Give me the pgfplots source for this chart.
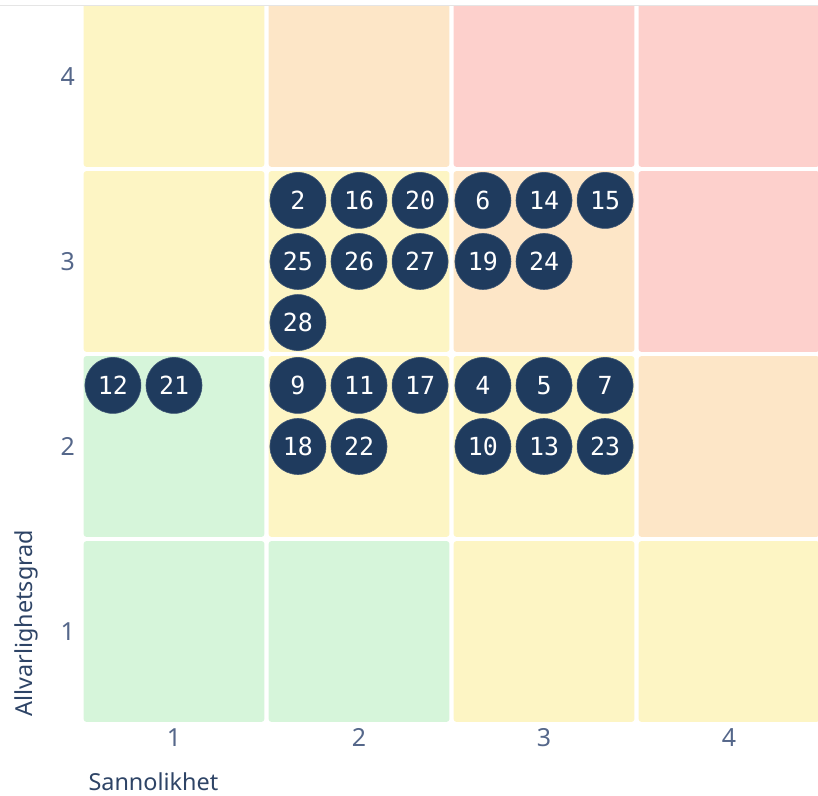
\documentclass[border=0pt]{standalone}
\usepackage{fontspec}
\setmainfont{Noto Sans}
\newfontfamily\monofont{DejaVu Sans Mono}
\usepackage{pgfplots}
\pgfplotsset{compat=1.18}
\definecolor{cgreen}{HTML}{D6F5DA}
\definecolor{cyellow}{HTML}{FDF5C4}
\definecolor{corange}{HTML}{FDE6C7}
\definecolor{cred}{HTML}{FDD0CC}
\definecolor{navy}{HTML}{1F3B5E}
\definecolor{tickcol}{HTML}{55678A}
\definecolor{labcol}{HTML}{2E4466}
\newcommand\cell[5]{\addplot[fill=#5, draw=none, rounded corners=3bp] coordinates {(#1,#3) (#2,#3) (#2,#4) (#1,#4)} -- cycle;}
\pgfplotstableread{
x y label
0.67 2.33 12
1.00 2.33 21
1.67 3.33 2
2.00 3.33 16
2.33 3.33 20
1.67 3.00 25
2.00 3.00 26
2.33 3.00 27
1.67 2.67 28
1.67 2.33 9
2.00 2.33 11
2.33 2.33 17
1.67 2.00 18
2.00 2.00 22
2.67 3.33 6
3.00 3.33 14
3.33 3.33 15
2.67 3.00 19
3.00 3.00 24
2.67 2.33 4
3.00 2.33 5
3.33 2.33 7
2.67 2.00 10
3.00 2.00 13
3.33 2.00 23
}\points
\begin{document}
\begin{tikzpicture}
\useasboundingbox (-81.5bp,-72bp) rectangle (736.5bp,724bp);
\begin{axis}[
  at={(0,0)}, anchor=south west,
  scale only axis, width=736.5bp, height=718bp,
  xmin=0.5, xmax=4.481, ymin=0.5, ymax=4.381,
  axis line style={draw=none},
  tick style={draw=none}, major tick length=0pt,
  xtick={1,2,3,4}, ytick={1,2,3,4},
  /pgf/number format/assume math mode=true,
  tick label style={font=\fontsize{25}{25}\selectfont, text=tickcol},
  xticklabel style={yshift=-1bp},
  yticklabel style={xshift=-3bp},
  xlabel={Sannolikhet}, ylabel={Allvarlighetsgrad},
  label style={font=\fontsize{23.5}{23.5}\selectfont, text=labcol},
  xlabel style={at={([xshift=3.5bp,yshift=-66bp]axis description cs:0,0)}, anchor=base west},
  ylabel style={at={([xshift=-48.5bp,yshift=4bp]axis description cs:0,0)}, anchor=base west, rotate=0},
  clip=true,
]
\cell{0.511}{1.489}{3.511}{4.489}{cyellow}
\cell{1.511}{2.489}{3.511}{4.489}{corange}
\cell{2.511}{3.489}{3.511}{4.489}{cred}
\cell{3.511}{4.489}{3.511}{4.489}{cred}
\cell{0.511}{1.489}{2.511}{3.489}{cyellow}
\cell{1.511}{2.489}{2.511}{3.489}{cyellow}
\cell{2.511}{3.489}{2.511}{3.489}{corange}
\cell{3.511}{4.489}{2.511}{3.489}{cred}
\cell{0.511}{1.489}{1.511}{2.489}{cgreen}
\cell{1.511}{2.489}{1.511}{2.489}{cyellow}
\cell{2.511}{3.489}{1.511}{2.489}{cyellow}
\cell{3.511}{4.489}{1.511}{2.489}{corange}
\cell{0.511}{1.489}{0.511}{1.489}{cgreen}
\cell{1.511}{2.489}{0.511}{1.489}{cgreen}
\cell{2.511}{3.489}{0.511}{1.489}{cyellow}
\cell{3.511}{4.489}{0.511}{1.489}{cyellow}
\addplot[only marks, mark=*, mark size=28bp,
  mark options={fill=navy, draw=navy!85!white, line width=0.6bp},
  nodes near coords, point meta=explicit symbolic,
  every node near coord/.append style={anchor=center, text=white,
    font=\monofont\fontsize{25}{25}\selectfont}]
  table[x=x, y=y, meta=label] {\points};
\end{axis}
\draw[black!10, line width=1bp] (-81.5bp,718bp) -- (736.5bp,718bp);
\end{tikzpicture}
\end{document}
